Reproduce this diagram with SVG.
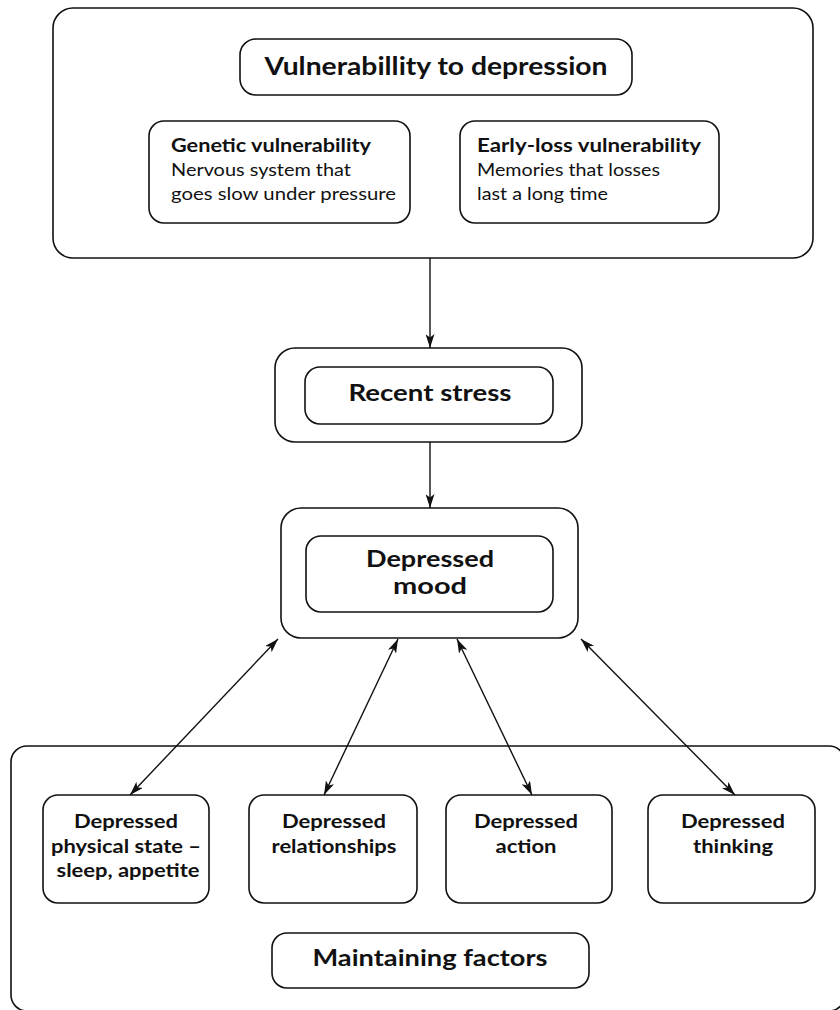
<svg xmlns="http://www.w3.org/2000/svg" width="840" height="1010" viewBox="0 0 840 1010">
<style>
.box{fill:none;stroke:#111;stroke-width:1.6}
.t{font-family:Lato,"Open Sans","Liberation Sans",sans-serif;fill:#111}
.b{font-weight:bold}
.c{text-anchor:middle}
.con{stroke:#111;stroke-width:1.4;fill:none}
</style>
<defs>
<marker id="ah" viewBox="0 0 14 9" refX="14" refY="4.5" markerWidth="14" markerHeight="9" markerUnits="userSpaceOnUse" orient="auto-start-reverse">
<path d="M0,0 L14,4.5 L0,9 L3.5,4.5 Z" fill="#111"/>
</marker>
</defs>
<rect width="840" height="1010" fill="#fff"/>
<g id="vulnerability">
<rect class="box" x="53" y="8" width="760" height="250" rx="20"/>
<g id="vuln-title">
<rect class="box" x="240" y="39" width="392" height="56" rx="16"/>
<text class="t b c" x="436" y="75" font-size="24" textLength="343" lengthAdjust="spacingAndGlyphs">Vulnerabillity to depression</text>
</g>
<g id="genetic">
<rect class="box" x="149" y="121" width="261" height="102" rx="15"/>
<text class="t" x="171" y="152" font-size="18"><tspan class="b" textLength="200" lengthAdjust="spacingAndGlyphs">Genetic vulnerability</tspan><tspan x="171" y="176" textLength="180" lengthAdjust="spacingAndGlyphs">Nervous system that</tspan><tspan x="171" y="200" textLength="225" lengthAdjust="spacingAndGlyphs">goes slow under pressure</tspan></text>
</g>
<g id="earlyloss">
<rect class="box" x="460" y="121" width="259" height="102" rx="15"/>
<text class="t" x="477" y="152" font-size="18"><tspan class="b" textLength="224" lengthAdjust="spacingAndGlyphs">Early-loss vulnerability</tspan><tspan x="477" y="176" textLength="183" lengthAdjust="spacingAndGlyphs">Memories that losses</tspan><tspan x="477" y="200" textLength="131" lengthAdjust="spacingAndGlyphs">last a long time</tspan></text>
</g>
</g>
<g id="recent-stress">
<rect class="box" x="275" y="348" width="307" height="94" rx="20"/>
<rect class="box" x="305" y="367" width="248" height="57" rx="15"/>
<text class="t b c" x="430" y="401" font-size="23" textLength="163" lengthAdjust="spacingAndGlyphs">Recent stress</text>
</g>
<g id="depressed-mood">
<rect class="box" x="281" y="508" width="297" height="130" rx="20"/>
<rect class="box" x="306" y="536" width="247" height="76" rx="15"/>
<text class="t b c" x="430" y="567" font-size="22" textLength="128" lengthAdjust="spacingAndGlyphs">Depressed</text>
<text class="t b c" x="430" y="594" font-size="22" textLength="74" lengthAdjust="spacingAndGlyphs">mood</text>
</g>
<g id="maintaining">
<rect class="box" x="11" y="746" width="834" height="265" rx="16"/>
<g id="physical">
<rect class="box" x="43" y="795" width="166" height="108" rx="15"/>
<text class="t b c" x="126" y="828" font-size="18" textLength="104" lengthAdjust="spacingAndGlyphs">Depressed</text>
<text class="t b c" x="126" y="853" font-size="18" textLength="150" lengthAdjust="spacingAndGlyphs">physical state –</text>
<text class="t b c" x="128" y="877" font-size="18" textLength="143" lengthAdjust="spacingAndGlyphs">sleep, appetite</text>
</g>
<g id="relationships">
<rect class="box" x="249" y="795" width="168" height="108" rx="15"/>
<text class="t b c" x="334" y="828" font-size="18" textLength="104" lengthAdjust="spacingAndGlyphs">Depressed</text>
<text class="t b c" x="334" y="853" font-size="18" textLength="125" lengthAdjust="spacingAndGlyphs">relationships</text>
</g>
<g id="action">
<rect class="box" x="446" y="795" width="166" height="108" rx="15"/>
<text class="t b c" x="526" y="828" font-size="18" textLength="104" lengthAdjust="spacingAndGlyphs">Depressed</text>
<text class="t b c" x="526" y="853" font-size="18" textLength="61" lengthAdjust="spacingAndGlyphs">action</text>
</g>
<g id="thinking">
<rect class="box" x="648" y="795" width="167" height="108" rx="15"/>
<text class="t b c" x="733" y="828" font-size="18" textLength="104" lengthAdjust="spacingAndGlyphs">Depressed</text>
<text class="t b c" x="733" y="853" font-size="18" textLength="80" lengthAdjust="spacingAndGlyphs">thinking</text>
</g>
<g id="maintaining-title">
<rect class="box" x="272" y="933" width="317" height="55" rx="15"/>
<text class="t b c" x="430" y="966" font-size="23" textLength="235" lengthAdjust="spacingAndGlyphs">Maintaining factors</text>
</g>
</g>
<g id="connectors">
<line class="con" x1="430" y1="258" x2="430" y2="348" marker-end="url(#ah)"/>
<line class="con" x1="430" y1="442" x2="430" y2="508" marker-end="url(#ah)"/>
<line class="con" x1="278" y1="639" x2="130" y2="795" marker-start="url(#ah)" marker-end="url(#ah)"/>
<line class="con" x1="398" y1="639" x2="324" y2="795" marker-start="url(#ah)" marker-end="url(#ah)"/>
<line class="con" x1="457" y1="639" x2="532" y2="795" marker-start="url(#ah)" marker-end="url(#ah)"/>
<line class="con" x1="581" y1="639" x2="735" y2="795" marker-start="url(#ah)" marker-end="url(#ah)"/>
</g>
</svg>
